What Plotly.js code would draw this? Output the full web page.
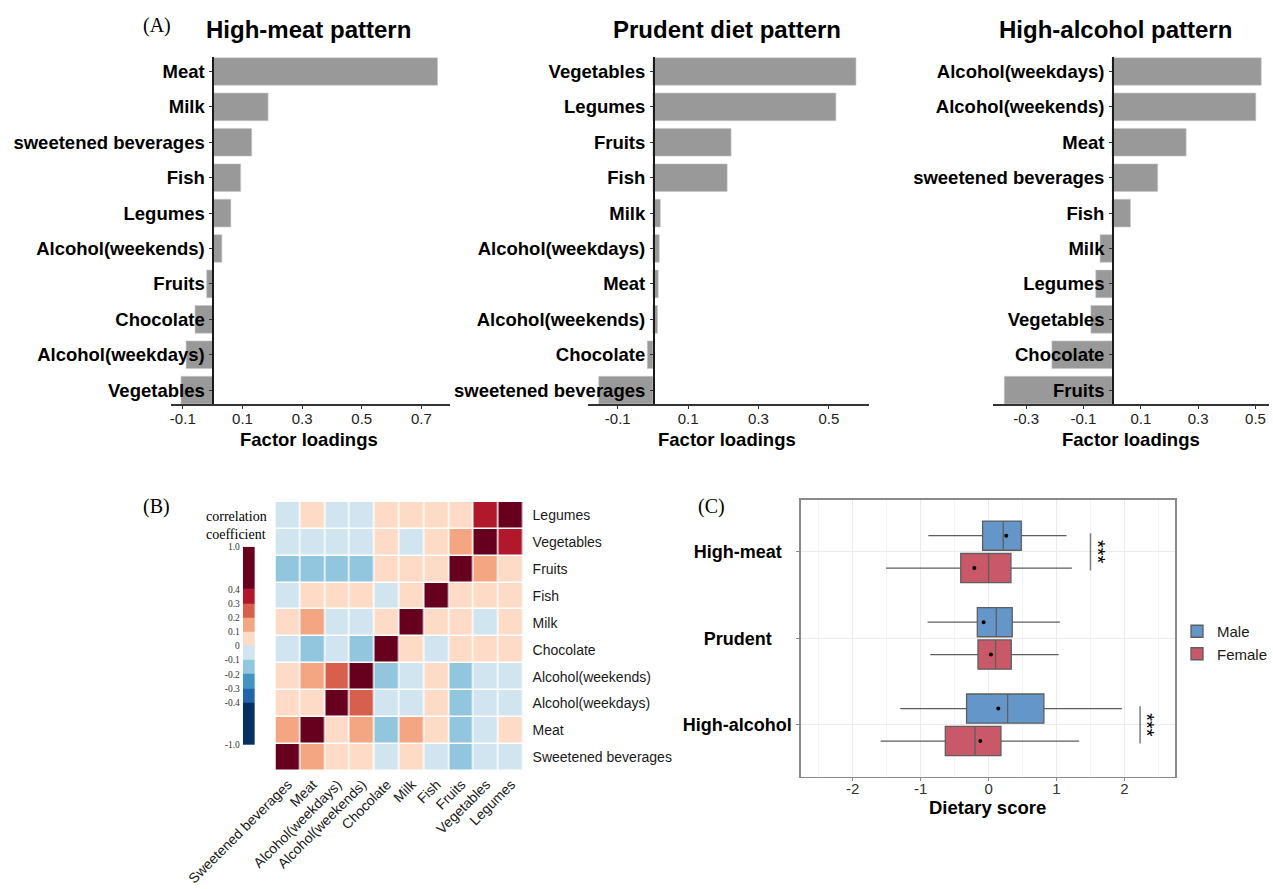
<!DOCTYPE html>
<html>
<head>
<meta charset="utf-8">
<script src="https://cdn.plot.ly/plotly-3.0.1.min.js"></script>
<style>html,body{margin:0;padding:0;background:#fff;}#chart{width:1273px;height:889px;}</style>
</head>
<body>
<div id="chart"></div>
<script>
// ---------- Panel A: factor loadings ----------
const meatCats = ['Meat','Milk','sweetened beverages','Fish','Legumes','Alcohol(weekends)','Fruits','Chocolate','Alcohol(weekdays)','Vegetables'];
const meatLoad = [0.754,0.186,0.131,0.094,0.061,0.031,-0.020,-0.059,-0.089,-0.106];
const prudCats = ['Vegetables','Legumes','Fruits','Fish','Milk','Alcohol(weekdays)','Meat','Alcohol(weekends)','Chocolate','sweetened beverages'];
const prudLoad = [0.577,0.520,0.222,0.211,0.021,0.018,0.015,0.013,-0.016,-0.154];
const alcCats = ['Alcohol(weekdays)','Alcohol(weekends)','Meat','sweetened beverages','Fish','Milk','Legumes','Vegetables','Chocolate','Fruits'];
const alcLoad = [0.520,0.501,0.258,0.159,0.064,-0.042,-0.057,-0.074,-0.210,-0.376];
const meatTicks = [-0.1,0.1,0.3,0.5,0.7];
const meatTickText = ['-0.1','0.1','0.3','0.5','0.7'];
const prudTicks = [-0.1,0.1,0.3,0.5];
const prudTickText = ['-0.1','0.1','0.3','0.5'];
const alcTicks = [-0.3,-0.1,0.1,0.3,0.5];
const alcTickText = ['-0.3','-0.1','0.1','0.3','0.5'];

// ---------- Panel B: correlation matrix ----------
const foods = ['Sweetened beverages','Meat','Alcohol(weekdays)','Alcohol(weekends)','Chocolate','Milk','Fish','Fruits','Vegetables','Legumes'];
const corr = [
  [ 1.00, 0.15, 0.05, 0.05,-0.05, 0.05,-0.05,-0.15,-0.05,-0.05],
  [ 0.15, 1.00, 0.05, 0.15,-0.15, 0.15, 0.05,-0.15,-0.05, 0.05],
  [ 0.05, 0.05, 1.00, 0.25,-0.05,-0.05, 0.05,-0.15,-0.05,-0.05],
  [ 0.05, 0.15, 0.25, 1.00,-0.15,-0.05, 0.05,-0.15,-0.05,-0.05],
  [-0.05,-0.15,-0.05,-0.15, 1.00, 0.05,-0.05, 0.05, 0.05, 0.05],
  [ 0.05, 0.15,-0.05,-0.05, 0.05, 1.00, 0.05, 0.05,-0.05, 0.05],
  [-0.05, 0.05, 0.05, 0.05,-0.05, 0.05, 1.00, 0.05, 0.05, 0.05],
  [-0.15,-0.15,-0.15,-0.15, 0.05, 0.05, 0.05, 1.00, 0.15, 0.05],
  [-0.05,-0.05,-0.05,-0.05, 0.05,-0.05, 0.05, 0.15, 1.00, 0.35],
  [-0.05, 0.05,-0.05,-0.05, 0.05, 0.05, 0.05, 0.05, 0.35, 1.00]
];
const legendEdges = [-1.0,-0.4,-0.3,-0.2,-0.1,0,0.1,0.2,0.3,0.4,1.0];
const legendEdgeText = ['-1.0','-0.4','-0.3','-0.2','-0.1','0','0.1','0.2','0.3','0.4','1.0'];
const legendSpan = [3,1,1,1,1,1,1,1,1,3];
const binColors = ['#053061','#2166ac','#4393c3','#92c5de','#d1e5f0','#fddbc7','#f4a582','#d6604d','#b2182b','#67001f'];

// ---------- Panel C: dietary scores ----------
const patterns = ['High-meat','Prudent','High-alcohol'];
const patternLabels = ['High-meat\u00a0\u00a0','Prudent\u00a0\u00a0\u00a0\u00a0','High-alcohol'];
const maleQ1 = [-0.088,-0.166,-0.324];
const maleMed = [0.216,0.113,0.280];
const maleQ3 = [0.481,0.348,0.814];
const maleLo = [-0.887,-0.897,-1.300];
const maleHi = [1.147,1.050,1.962];
const maleMean = [0.260,-0.073,0.143];
const femQ1 = [-0.410,-0.156,-0.637];
const femMed = [0.000,0.103,-0.200];
const femQ3 = [0.329,0.334,0.182];
const femLo = [-1.510,-0.857,-1.588];
const femHi = [1.226,1.030,1.334];
const femMean = [-0.210,0.035,-0.122];
const scoreTicks = [-2,-1,0,1,2];
const scoreTickText = ['-2','-1','0','1','2'];
const sigPattern = ['High-meat','High-alcohol'];
const sigX = [1.50,2.23];
const sigLabel = ['***','***'];

// ---------- helpers ----------
const W = 1273, H = 889;
const X = p => p / W;
const Y = p => 1 - p / H;
const SANS = 'Liberation Sans, Arial, sans-serif';
const SERIF = 'Liberation Serif, Times New Roman, serif';

// colorscale built from bins
const cs = [];
for (let i = 0; i < binColors.length; i++) {
  const a = (legendEdges[i] + 1) / 2, b = (legendEdges[i+1] + 1) / 2;
  cs.push([a, binColors[i]]); cs.push([b, binColors[i]]);
}
// legend bar edges (in legend slot units) and values
const legendY = [0];
legendSpan.forEach(s => legendY.push(legendY[legendY.length-1] + s));
const legendZ = legendEdges.slice(0,-1).map((e,i) => [(e + legendEdges[i+1]) / 2]);

const barStyle = {color: '#999999', line: {color: '#c8c8c8', width: 0.6}};
const traces = [
  {type:'bar', orientation:'h', x: meatLoad, y: meatCats, xaxis:'x', yaxis:'y', marker: barStyle, width: 0.78, showlegend:false, hoverinfo:'x+y'},
  {type:'bar', orientation:'h', x: prudLoad, y: prudCats, xaxis:'x2', yaxis:'y2', marker: barStyle, width: 0.78, showlegend:false, hoverinfo:'x+y'},
  {type:'bar', orientation:'h', x: alcLoad, y: alcCats, xaxis:'x3', yaxis:'y3', marker: barStyle, width: 0.78, showlegend:false, hoverinfo:'x+y'},
  {type:'heatmap', x: foods, y: foods, z: corr, xaxis:'x4', yaxis:'y4', zmin:-1, zmax:1, colorscale: cs, showscale:false, xgap:1.5, ygap:1.5},
  {type:'heatmap', x: [0,1], y: legendY, z: legendZ, xaxis:'x5', yaxis:'y5', zmin:-1, zmax:1, colorscale: cs, showscale:false, hoverinfo:'skip'},
  {type:'box', orientation:'h', name:'Male', y: patterns, q1: maleQ1, median: maleMed, q3: maleQ3, lowerfence: maleLo, upperfence: maleHi,
   xaxis:'x6', yaxis:'y6', fillcolor:'rgb(101,150,202)', line:{color:'#5e5e5e', width:1.3}, whiskerwidth:0, boxpoints:false, offsetgroup:'m', alignmentgroup:'c'},
  {type:'box', orientation:'h', name:'Female', y: patterns, q1: femQ1, median: femMed, q3: femQ3, lowerfence: femLo, upperfence: femHi,
   xaxis:'x6', yaxis:'y6', fillcolor:'rgb(201,88,104)', line:{color:'#5e5e5e', width:1.3}, whiskerwidth:0, boxpoints:false, offsetgroup:'f', alignmentgroup:'c'},
  {type:'scatter', mode:'markers', orientation:'h', x: maleMean, y: patterns, xaxis:'x6', yaxis:'y6', marker:{color:'#000', size:4}, showlegend:false, offsetgroup:'m', alignmentgroup:'c'},
  {type:'scatter', mode:'markers', orientation:'h', x: femMean, y: patterns, xaxis:'x6', yaxis:'y6', marker:{color:'#000', size:4}, showlegend:false, offsetgroup:'f', alignmentgroup:'c'}
];

const catFont = {family: SANS, size: 18.5, weight: 'bold', color: '#000'};
const tickFontA = {family: SANS, size: 15, color: '#222'};
function barX(dom, range, tv, tt, anchor) {
  return {domain: dom, range: range, anchor: anchor, tickmode:'array', tickvals: tv, ticktext: tt,
    showline:true, linecolor:'#333', linewidth:1.6, ticks:'outside', ticklen:3, tickcolor:'#333',
    showgrid:false, zeroline:false, tickfont: tickFontA, ticklabelstandoff:-3, fixedrange:true};
}
function barY(cats, anchor, pos) {
  return {domain:[Y(404.3), Y(57.3)], type:'category', categoryorder:'array', categoryarray: cats,
    range:[9.4,-0.4], anchor:'free', position: pos, showline:true, linecolor:'#1a1a1a', linewidth:1.6,
    ticks:'outside', ticklen:3, tickcolor:'#333', showgrid:false, zeroline:false, tickfont: catFont, ticklabelstandoff:1};
}
function note(text, px, py, font, extra) {
  return Object.assign({text: text, x: X(px), y: Y(py), xref:'paper', yref:'paper', xanchor:'center', yanchor:'middle', showarrow:false, font: font}, extra || {});
}
const titleFont = {family:SANS, size:24, weight:'bold', color:'#000'};
const axTitleFont = {family:SANS, size:18.5, weight:'bold', color:'#000'};
const panelFont = {family:SERIF, size:20, color:'#000'};

const layout = {
  width: W, height: H, margin:{l:0,r:0,t:0,b:0}, paper_bgcolor:'#fff', plot_bgcolor:'rgba(0,0,0,0)',
  font:{family: SANS, color:'#000'},
  boxmode:'group', boxgap:0.25, boxgroupgap:0.1,
  scattermode:'group', scattergap:0.25,
  xaxis: barX([X(171), X(450.7)], [-0.14, 0.797], meatTicks, meatTickText, 'y'),
  yaxis: barY(meatCats, 'x', X(212.6)),
  xaxis2: barX([X(588.3), X(869.3)], [-0.185, 0.613], prudTicks, prudTickText, 'y2'),
  yaxis2: barY(prudCats, 'x2', X(653.5)),
  xaxis3: barX([X(993.3), X(1270)], [-0.417, 0.547], alcTicks, alcTickText, 'y3'),
  yaxis3: barY(alcCats, 'x3', X(1113)),
  xaxis4: {domain:[X(275.7), X(524)], anchor:'y4', type:'category', tickangle:-45, showgrid:false, zeroline:false, showline:false,
    ticks:'', tickfont:{family:SANS, size:14, color:'#1a1a1a'}, ticklabelstandoff:2},
  yaxis4: {domain:[Y(770.7), Y(502)], anchor:'x4', type:'category', side:'right', showgrid:false, zeroline:false, showline:false,
    ticks:'', tickfont:{family:SANS, size:14, color:'#1a1a1a'}, ticklabelstandoff:8},
  xaxis5: {domain:[X(243), X(255)], anchor:'y5', range:[0,1], visible:false, fixedrange:true},
  yaxis5: {domain:[Y(745), Y(546.7)], anchor:'x5', range:[0, legendY[legendY.length-1]], tickmode:'array', tickvals: legendY, ticktext: legendEdgeText,
    showgrid:false, zeroline:false, showline:false, ticks:'', tickfont:{family:SERIF, size:9.5, color:'#333'}, ticklabelstandoff:2, fixedrange:true},
  xaxis6: {domain:[X(801.7), X(1176)], anchor:'y6', range:[-2.76, 2.745], tickmode:'array', tickvals: scoreTicks, ticktext: scoreTickText,
    showline:true, mirror:true, linecolor:'#8a8a8a', linewidth:1.6, ticks:'outside', ticklen:3, tickcolor:'#8a8a8a',
    showgrid:true, gridcolor:'#ebebeb', gridwidth:1, zeroline:false,
    minor:{tickvals:[-2.5,-1.5,-0.5,0.5,1.5,2.5], showgrid:true, gridcolor:'#f4f4f4', gridwidth:1, ticks:''},
    tickfont:{family:SANS, size:15, color:'#333'}, ticklabelstandoff:-5},
  yaxis6: {domain:[Y(776.7), Y(500)], anchor:'x6', type:'category', categoryorder:'array', categoryarray: patterns, range:[2.6,-0.6],
    tickmode:'array', tickvals: patterns, ticktext: patternLabels,
    showline:true, mirror:true, linecolor:'#8a8a8a', linewidth:1.6, ticks:'outside', ticklen:3, tickcolor:'#8a8a8a',
    showgrid:true, gridcolor:'#ebebeb', gridwidth:1, zeroline:false, tickfont:{family:SANS, size:18, weight:'bold', color:'#000'}, ticklabelstandoff:1},
  showlegend:true,
  legend:{x: X(1178), y: Y(615), xanchor:'left', yanchor:'top', font:{family:SANS, size:15, color:'#1a1a1a'}, bgcolor:'rgba(0,0,0,0)', traceorder:'normal', itemwidth:30, tracegroupgap:0},
  shapes: sigPattern.map((p,i) => ({type:'line', xref:'x6', yref:'y6', x0: sigX[i], x1: sigX[i], y0: patterns.indexOf(p) - 0.215, y1: patterns.indexOf(p) + 0.215, line:{color:'#7a7a7a', width:1.5}})),
  annotations: [
    note('(A)', 156.7, 25.8, panelFont),
    note('(B)', 156.7, 506, panelFont),
    note('(C)', 712, 506.5, panelFont),
    note('High-meat pattern', 309.2, 30, titleFont),
    note('Prudent diet pattern', 728, 30, titleFont),
    note('High-alcohol pattern', 1116.2, 30, titleFont),
    note('Factor loadings', 309.2, 439, axTitleFont),
    note('Factor loadings', 727.3, 439, axTitleFont),
    note('Factor loadings', 1131.7, 439, axTitleFont),
    note('Dietary score', 988.3, 807, axTitleFont),
    note('correlation<br>coefficient', 204, 525, {family:SERIF, size:14, color:'#000'}, {xanchor:'left', align:'left'})
  ].concat(sigPattern.map((p,i) => ({text: sigLabel[i], textangle: 90, x: sigX[i] + 0.11, y: p, xref:'x6', yref:'y6', xanchor:'center', yanchor:'middle', showarrow:false, font:{family:SANS, size:20, color:'#000'}})))
};

Plotly.newPlot('chart', traces, layout, {staticPlot:true, displayModeBar:false});
</script>
</body>
</html>
